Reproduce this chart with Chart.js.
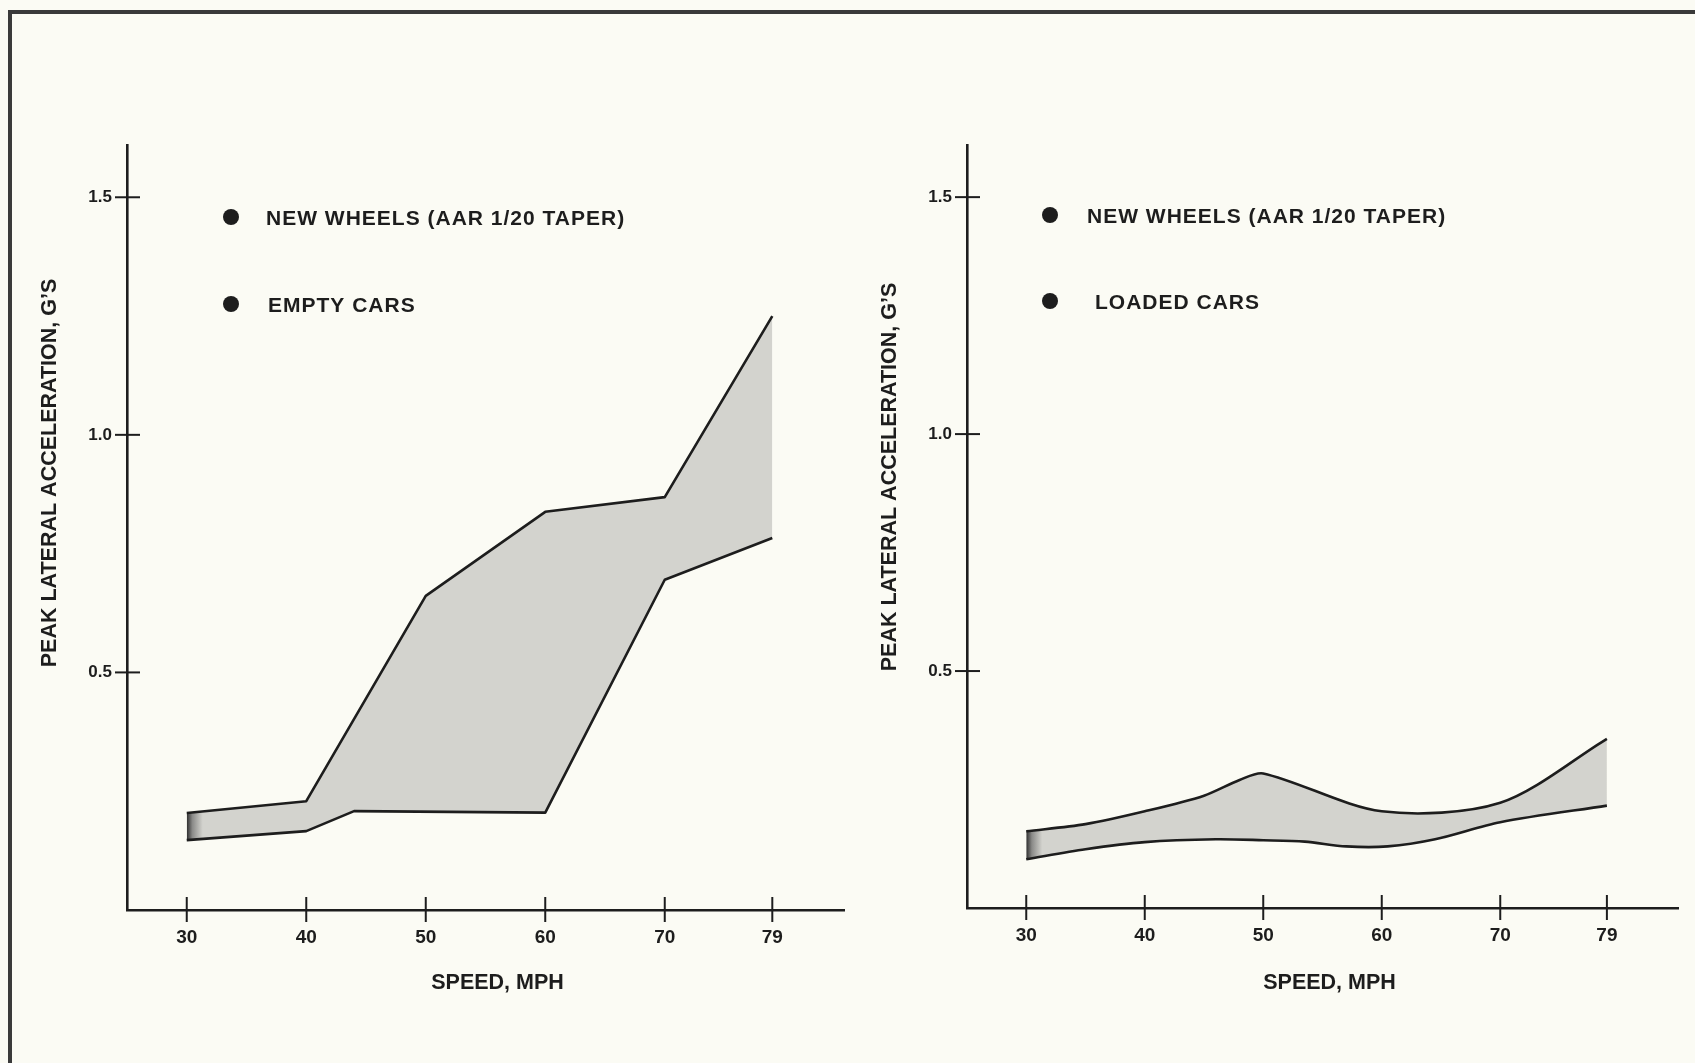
<!DOCTYPE html>
<html>
<head>
<meta charset="utf-8">
<script src="https://cdn.jsdelivr.net/npm/chart.js@4.4.0/dist/chart.umd.min.js"></script>
<style>
  html, body { margin: 0; padding: 0; background: #fbfbf4; }
  body { width: 1695px; height: 1063px; position: relative; overflow: hidden; }
  #frame { position: absolute; left: 8px; top: 10px; width: 1720px; height: 1120px;
           border-top: 4px solid #3a3a3a; border-left: 4px solid #3a3a3a; }
  .panel { position: absolute; top: 0; height: 1063px; }
  #left { left: 0; width: 860px; }
  #right { left: 860px; width: 835px; }
</style>
</head>
<body>
<div id="frame"></div>
<div class="panel" id="left"><canvas id="emptyChart"></canvas></div>
<div class="panel" id="right"><canvas id="loadedChart"></canvas></div>
<script>
// Tick positions on both axes
const speedTicks = [30, 40, 50, 60, 70, 79];
const accelTicks = [0.5, 1.0, 1.5];

// Empty cars: upper and lower envelope of peak lateral acceleration (g)
const emptyUpperSpeed = [30, 40, 50, 60, 70, 79];
const emptyUpperAccel = [0.204, 0.229, 0.661, 0.838, 0.869, 1.25];
const emptyLowerSpeed = [30, 40, 44, 60, 70, 79];
const emptyLowerAccel = [0.147, 0.166, 0.208, 0.205, 0.695, 0.783];

// Loaded cars: upper and lower envelope
const loadedUpperSpeed = [30, 35, 40, 45, 48, 50, 60, 70, 79];
const loadedUpperAccel = [0.162, 0.177, 0.204, 0.237, 0.270, 0.284, 0.204, 0.222, 0.357];
const loadedLowerSpeed = [30, 35, 40, 46, 50, 53.5, 57, 60.5, 64.5, 70, 79];
const loadedLowerAccel = [0.103, 0.124, 0.139, 0.145, 0.143, 0.140, 0.130, 0.130, 0.145, 0.181, 0.216];

const legendEmpty = ['NEW WHEELS (AAR 1/20 TAPER)', 'EMPTY CARS'];
const legendLoaded = ['NEW WHEELS (AAR 1/20 TAPER)', 'LOADED CARS'];

const yTitle = 'PEAK LATERAL ACCELERATION, G\u2019S';
const xTitle = 'SPEED, MPH';

const FONT = '"Liberation Sans", Arial, Helvetica, sans-serif';
const INK = '#1d1d1d';
const BAND = '#d3d3ce';

function points(xs, ys) {
  return xs.map((v, i) => ({ x: v, y: ys[i] }));
}

// Band fill, darkened at its starting edge
function bandFill(startSpeed) {
  return (c) => {
    const chart = c.chart;
    if (!chart.chartArea || !chart.scales.x) return BAND;
    const x0 = chart.scales.x.getPixelForValue(startSpeed);
    const g = chart.ctx.createLinearGradient(x0, 0, x0 + 16, 0);
    g.addColorStop(0, '#2e2e2e');
    g.addColorStop(0.35, '#8a8a88');
    g.addColorStop(1, BAND);
    return g;
  };
}

// Crossing tick marks, axis titles and bullet legend
const decor = {
  id: 'decor',
  afterDraw(chart, args, opts) {
    const { ctx, chartArea: a, scales: { x, y } } = chart;
    ctx.save();
    ctx.strokeStyle = INK;
    ctx.lineWidth = 2;
    x.ticks.forEach(t => {
      const px = x.getPixelForValue(t.value);
      ctx.beginPath();
      ctx.moveTo(px, a.bottom - 13);
      ctx.lineTo(px, a.bottom + 12);
      ctx.stroke();
    });
    y.ticks.forEach(t => {
      const py = y.getPixelForValue(t.value);
      ctx.beginPath();
      ctx.moveTo(a.left - 12, py);
      ctx.lineTo(a.left + 13, py);
      ctx.stroke();
    });
    ctx.restore();

    ctx.save();
    ctx.fillStyle = INK;
    ctx.font = `bold 21.5px ${FONT}`;
    ctx.textAlign = 'center';
    ctx.textBaseline = 'middle';
    ctx.fillText(xTitle, (a.left + a.right) / 2 + opts.xTitleDx, 983);
    ctx.translate(a.left - 77, opts.titleY);
    ctx.rotate(-Math.PI / 2);
    ctx.fillText(yTitle, 0, 0);
    ctx.restore();

    ctx.save();
    ctx.fillStyle = INK;
    ctx.font = `bold 21px ${FONT}`;
    ctx.letterSpacing = '1px';
    ctx.textAlign = 'left';
    ctx.textBaseline = 'middle';
    opts.entries.forEach((e, i) => {
      const row = opts.rows[i];
      ctx.beginPath();
      ctx.arc(a.left + opts.bulletDx, row.y - 2, 8, 0, Math.PI * 2);
      ctx.fill();
      ctx.fillText(e, a.left + row.textDx, row.y);
    });
    ctx.restore();
  }
};

function makeChart(canvasId, upper, lower, tension, layout, legend) {
  const line = {
    borderColor: INK,
    borderWidth: 2.6,
    pointRadius: 0,
    borderJoinStyle: 'round',
    tension: tension
  };
  return new Chart(document.getElementById(canvasId), {
    type: 'line',
    data: {
      datasets: [
        Object.assign({ data: points(upper[0], upper[1]), fill: '+1',
                        backgroundColor: bandFill(upper[0][0]) }, line),
        Object.assign({ data: points(lower[0], lower[1]), fill: false }, line)
      ]
    },
    options: {
      responsive: true,
      maintainAspectRatio: false,
      animation: false,
      layout: { padding: { left: 0, right: layout.right, top: 145, bottom: 0 } },
      plugins: {
        legend: { display: false },
        tooltip: { enabled: false },
        filler: { drawTime: 'beforeDatasetsDraw' },
        decor: legend
      },
      scales: {
        x: {
          type: 'linear',
          min: 25,
          max: 85,
          afterBuildTicks: s => { s.ticks = speedTicks.map(v => ({ value: v })); },
          afterFit: s => { s.height = layout.xHeight; },
          grid: { display: false, drawTicks: false },
          border: { display: true, color: INK, width: 2.6 },
          ticks: { color: INK, padding: 16, font: { family: FONT, size: 19, weight: 'bold' },
                   callback: v => String(v) }
        },
        y: {
          type: 'linear',
          min: 0,
          max: 1.61,
          afterBuildTicks: s => { s.ticks = accelTicks.map(v => ({ value: v })); },
          afterFit: s => { s.width = layout.yWidth; },
          grid: { display: false, drawTicks: false },
          border: { display: true, color: INK, width: 2.6 },
          ticks: { color: INK, padding: 15, font: { family: FONT, size: 17, weight: 'bold' },
                   callback: v => Number(v).toFixed(1) }
        }
      }
    },
    plugins: [decor]
  });
}

makeChart('emptyChart',
  [emptyUpperSpeed, emptyUpperAccel], [emptyLowerSpeed, emptyLowerAccel], 0,
  { right: 16, xHeight: 153, yWidth: 127 },
  { entries: legendEmpty, titleY: 473, xTitleDx: 12, bulletDx: 104,
    rows: [{ y: 219, textDx: 139 }, { y: 306, textDx: 141 }] });

makeChart('loadedChart',
  [loadedUpperSpeed, loadedUpperAccel], [loadedLowerSpeed, loadedLowerAccel], 0.3,
  { right: 17, xHeight: 155, yWidth: 107 },
  { entries: legendLoaded, titleY: 477, xTitleDx: 7, bulletDx: 83,
    rows: [{ y: 217, textDx: 120 }, { y: 303, textDx: 128 }] });
</script>
</body>
</html>
